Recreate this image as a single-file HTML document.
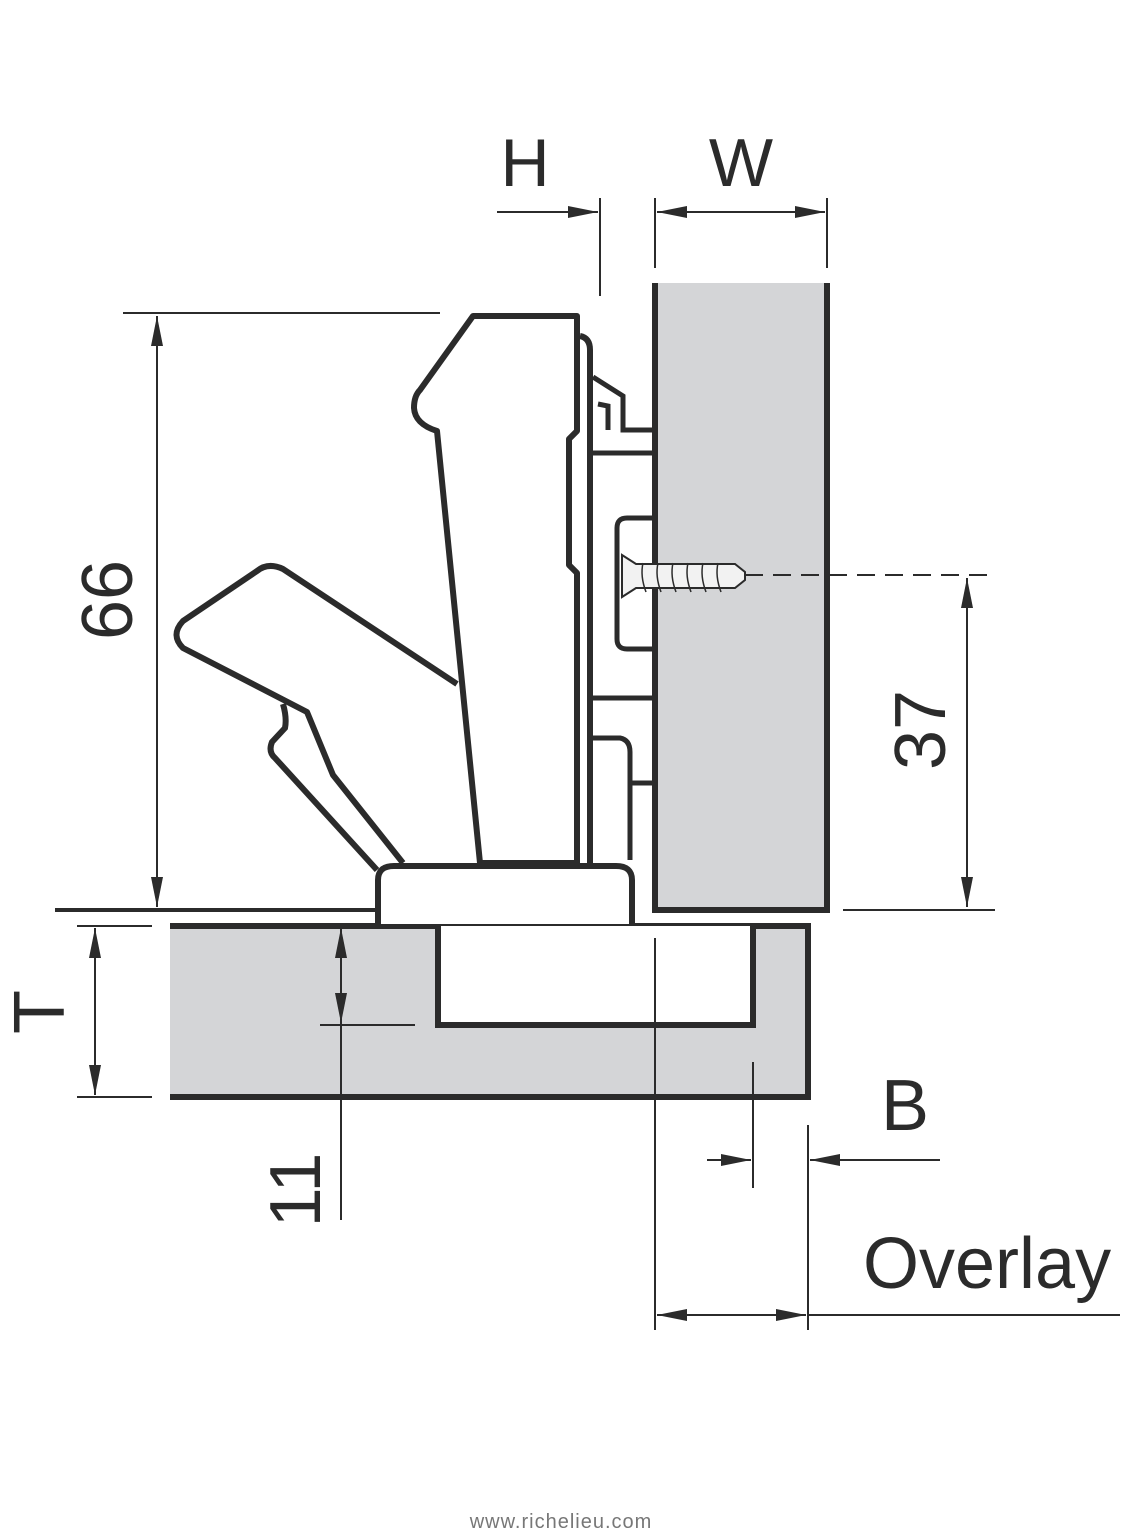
<!DOCTYPE html>
<html><head><meta charset="utf-8"><style>
html,body{margin:0;padding:0;background:#fff}
svg{display:block}
text{font-family:"Liberation Sans",sans-serif;fill:#2b2b2b}
</style></head><body>
<svg width="1122" height="1536" viewBox="0 0 1122 1536" xmlns="http://www.w3.org/2000/svg">
<defs>
<marker id="a" viewBox="0 0 10 10" refX="10" refY="5" markerWidth="9" markerHeight="9" orient="auto-start-reverse" markerUnits="userSpaceOnUse"><path d="M0,1.5 L10,5 L0,8.5 z" fill="#2b2b2b"/></marker>
<marker id="b" viewBox="0 0 30 12" refX="30" refY="6" markerWidth="30" markerHeight="12" orient="auto-start-reverse" markerUnits="userSpaceOnUse"><path d="M0,0 L30,6 L0,12 z" fill="#2b2b2b"/></marker>
</defs>
<g stroke="#2b2b2b" fill="none">
<!-- door panel -->
<rect x="655" y="283" width="172" height="627" fill="#d4d5d7" stroke="none"/>
<path d="M655,283 V910 H827 V283" stroke-width="6"/>
<!-- cabinet side -->
<rect x="170" y="926" width="638" height="171" fill="#d4d5d7" stroke="none"/>
<path d="M170,926 H808 V1097 H170" stroke-width="6"/>
<path d="M438,926 V1025 H753 V926" fill="#fff" stroke-width="6"/>
<!-- base plate -->
<path d="M378,924 V880 Q378,866 394,866 H616 Q632,866 632,880 V924" fill="#fff" stroke-width="6"/>
<!-- main arm -->
<path d="M473,316 H577 V431 L569,439 V565 L577,573 V863 H480 L437,431 Q415,424 414,408 Q414,396 420,390 Z" fill="#fff" stroke-width="6" stroke-linejoin="round"/>
<path d="M580,336 Q590,338 590,350 V863" stroke-width="6"/>
<!-- handle lever -->
<path d="M457,684 L283,569 Q268,562 257,571 L183,621 Q170,635 183,648 L307,712 L333,775 L403,863" fill="#fff" stroke-width="6" stroke-linejoin="round"/>
<path d="M283,704 Q287,718 285,728 L272,742 Q268,752 275,758 L377,870" stroke-width="6"/>
<!-- mounting plate parts -->
<path d="M593,377 L623,396 V430 H652" stroke-width="5"/>
<path d="M598,404 L608,406 V430" stroke-width="5"/>
<path d="M590,453 H652" stroke-width="5"/>
<path d="M590,698 H652" stroke-width="5"/>
<path d="M593,738 H620 Q630,740 630,752 V860" stroke-width="5"/>
<path d="M630,783 H652" stroke-width="5"/>
<path d="M652,518 H627 Q617,518 617,528 V639 Q617,649 627,649 H652" fill="#fff" stroke-width="5"/>
<!-- screw -->
<path d="M622,555 L636,564 L735,564 L745,572 L745,580 L735,588 L636,588 L622,597 Z" fill="#f2f2f2" stroke-width="2"/>
<g stroke-width="1.5"><path d="M643,563 Q640,576 646,592 M658,563 Q655,576 661,592 M673,563 Q670,576 676,592 M688,563 Q685,576 691,592 M703,563 Q700,576 706,592 M718,563 Q715,576 721,592"/></g>
<line x1="745" y1="575" x2="990" y2="575" stroke-width="2" stroke-dasharray="18,10"/>
<!-- floor lines -->
<line x1="55" y1="910" x2="378" y2="910" stroke-width="4"/>
<line x1="123" y1="313" x2="440" y2="313" stroke-width="2"/>
<line x1="843" y1="910" x2="995" y2="910" stroke-width="2"/>
<!-- dims -->
<line x1="157" y1="316" x2="157" y2="907" stroke-width="2" marker-start="url(#b)" marker-end="url(#b)"/>
<line x1="967" y1="578" x2="967" y2="907" stroke-width="2" marker-start="url(#b)" marker-end="url(#b)"/>
<line x1="95" y1="928" x2="95" y2="1095" stroke-width="2" marker-start="url(#b)" marker-end="url(#b)"/>
<line x1="77" y1="926" x2="152" y2="926" stroke-width="2"/>
<line x1="77" y1="1097" x2="152" y2="1097" stroke-width="2"/>
<line x1="341" y1="1220" x2="341" y2="928" stroke-width="2"/>
<line x1="341" y1="960" x2="341" y2="928" stroke-width="2" marker-end="url(#b)"/>
<line x1="341" y1="990" x2="341" y2="1023" stroke-width="2" marker-end="url(#b)"/>
<line x1="320" y1="1025" x2="415" y2="1025" stroke-width="2"/>
<!-- H W -->
<line x1="497" y1="212" x2="598" y2="212" stroke-width="2" marker-end="url(#b)"/>
<line x1="600" y1="198" x2="600" y2="296" stroke-width="2"/>
<line x1="655" y1="198" x2="655" y2="268" stroke-width="2"/>
<line x1="827" y1="198" x2="827" y2="268" stroke-width="2"/>
<line x1="657" y1="212" x2="825" y2="212" stroke-width="2" marker-start="url(#b)" marker-end="url(#b)"/>
<!-- B / overlay -->
<line x1="655" y1="938" x2="655" y2="1330" stroke-width="2"/>
<line x1="753" y1="1062" x2="753" y2="1188" stroke-width="2"/>
<line x1="808" y1="1125" x2="808" y2="1330" stroke-width="2"/>
<line x1="707" y1="1160" x2="751" y2="1160" stroke-width="2" marker-end="url(#b)"/>
<line x1="940" y1="1160" x2="810" y2="1160" stroke-width="2" marker-end="url(#b)"/>
<line x1="657" y1="1315" x2="806" y2="1315" stroke-width="2" marker-start="url(#b)" marker-end="url(#b)"/>
<line x1="808" y1="1315" x2="1120" y2="1315" stroke-width="2"/>
</g>
<text x="525" y="186" font-size="68" text-anchor="middle">H</text>
<text x="741" y="186" font-size="68" text-anchor="middle">W</text>
<text transform="translate(132,600) rotate(-90)" font-size="72" text-anchor="middle">66</text>
<text transform="translate(945,730) rotate(-90)" font-size="72" text-anchor="middle">37</text>
<text transform="translate(64,1012) rotate(-90)" font-size="72" text-anchor="middle">T</text>
<text transform="translate(320,1190) rotate(-90)" font-size="72" text-anchor="middle">11</text>
<text x="905" y="1130" font-size="72" text-anchor="middle">B</text>
<text x="863" y="1288" font-size="72">Overlay</text>
<text x="561" y="1528" font-size="20" text-anchor="middle" style="fill:#777;letter-spacing:1px">www.richelieu.com</text>
</svg>
</body></html>
